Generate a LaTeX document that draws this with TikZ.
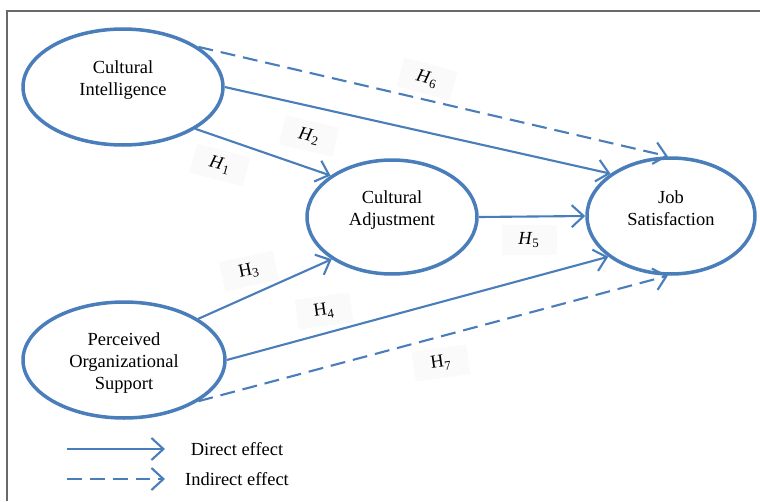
\documentclass[tikz,border=0pt]{standalone}
\usepackage{fontspec}
\setmainfont{Liberation Serif}
\usetikzlibrary{shapes.geometric,arrows.meta}
\definecolor{pathblue}{RGB}{74,126,187}
\definecolor{framegray}{RGB}{105,105,105}
\begin{document}
\begin{tikzpicture}[x=0.02cm,y=-0.02cm,
	construct/.style={ellipse, draw=pathblue, line width=2pt, inner sep=0pt},
	ctext/.style={align=center, font=\fontsize{10.5}{12.5}\selectfont},
	direct/.style={draw=pathblue, line width=1.2pt, -{Straight Barb[length=2.4mm,width=4.4mm]}},
	indirect/.style={direct, dash pattern=on 8.5pt off 4.5pt},
	hyp/.style={fill=black!2, inner sep=1pt, minimum width=1.1cm, minimum height=0.6cm, font=\fontsize{10.5}{12}\selectfont}]
	
	\useasboundingbox (0,0) rectangle (760,501);
	
	% frame
	\draw [framegray, line width=1.1pt] (7,501) -- (7,11) -- (760,11);
	
	% constructs
	\node [construct, minimum width=4cm, minimum height=2.32cm] (ci) at (123,87) {};
	\node [construct, minimum width=3.4cm, minimum height=2.28cm] (ca) at (392,217) {};
	\node [construct, minimum width=3.36cm, minimum height=2.32cm] (js) at (671,216) {};
	\node [construct, minimum width=4.04cm, minimum height=2.32cm] (pos) at (124,360) {};
	\node [ctext] (ci-t) at (123,80) {Cultural\\Intelligence};
	\node [ctext] (ca-t) at (392,210) {Cultural\\Adjustment};
	\node [ctext] (js-t) at (671,208) {Job\\Satisfaction};
	\node [ctext] (pos-t) at (124,363) {Perceived\\Organizational\\Support};
	
	% direct paths
	\draw [direct] (ci.-30) -- (ca.146);
	\draw [direct] (ci.0) -- (js.145);
	\draw [direct] (ca.0) -- (js.180);
	\draw [direct] (pos.29) -- (ca.215);
	\draw [direct] (pos.0) -- (js.213);
	
	% indirect paths
	\draw [indirect] (ci.28) -- (js.93);
	\draw [indirect] (pos.-29) -- (js.267);
	
	% hypotheses
	\node [hyp, rotate=-15] (h1) at (220,165) {\textit{H}\textsubscript{1}};
	\node [hyp, rotate=-13] (h2) at (309,136) {\textit{H}\textsubscript{2}};
	\node [hyp, rotate=12] (h3) at (249,271) {H\textsubscript{3}};
	\node [hyp, rotate=8] (h4) at (324,311) {H\textsubscript{4}};
	\node [hyp] (h5) at (529,240) {\textit{H}\textsubscript{5}};
	\node [hyp, rotate=-15] (h6) at (427,79) {\textit{H}\textsubscript{6}};
	\node [hyp, rotate=8] (h7) at (441,363) {H\textsubscript{7}};
	
	% legend
	\coordinate (da) at (67,449);
	\coordinate (db) at (165,449);
	\coordinate (ia) at (67,479);
	\coordinate (ib) at (165,479);
	\draw [direct] (da) -- (db);
	\draw [indirect] (ia) -- (ib);
	\node [ctext] (dlab) at (237,449) {Direct effect};
	\node [ctext] (ilab) at (237,479) {Indirect effect};
	
\end{tikzpicture}
\end{document}
